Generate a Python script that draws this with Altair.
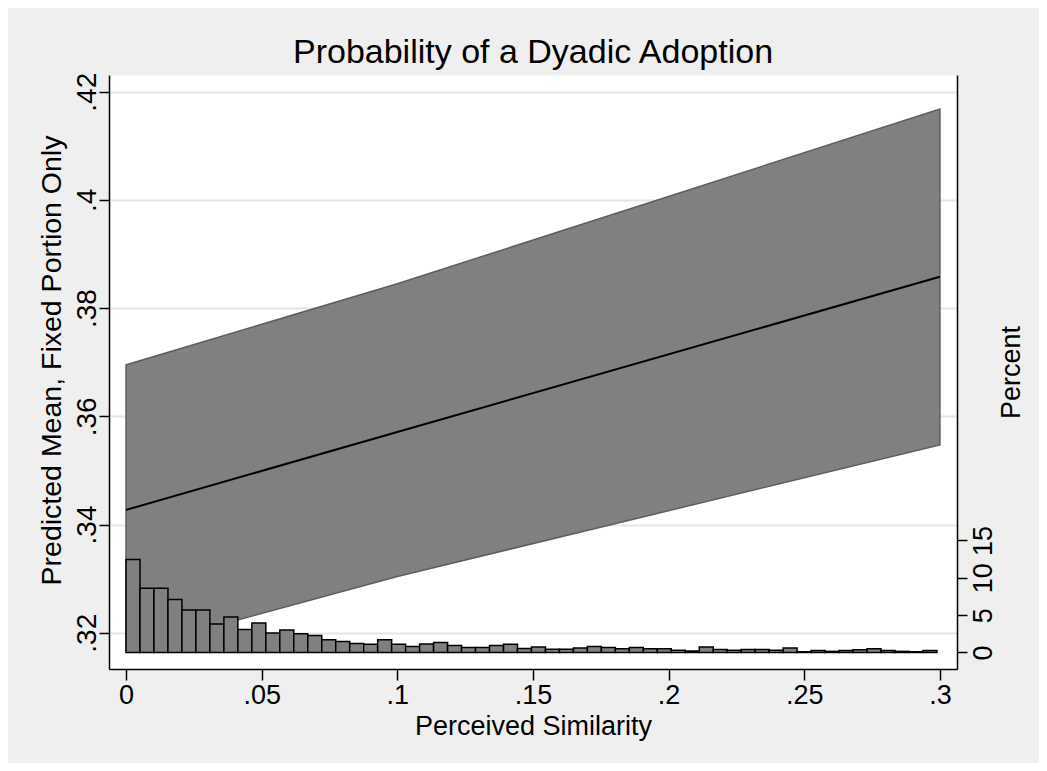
import altair as alt
import pandas as pd

# --- data ---
x_fit = [0.0, 0.1, 0.3]
fit_mean = [0.3427, 0.3571, 0.3858]
ci_upper = [0.3695, 0.3845, 0.4168]
ci_lower = [0.3167, 0.3304, 0.3547]

hist_pct = [12.45, 8.6, 8.6, 7.1, 5.7, 5.7, 3.8, 4.76, 3.07, 3.96,
            2.6, 3.0, 2.5, 2.27, 1.7, 1.47, 1.2, 1.1, 1.7, 1.1,
            0.8, 1.15, 1.33, 0.93, 0.67, 0.67, 0.93, 1.1, 0.53, 0.75,
            0.45, 0.45, 0.6, 0.8, 0.67, 0.5, 0.67, 0.5, 0.5, 0.3,
            0.2, 0.75, 0.4, 0.3, 0.4, 0.4, 0.3, 0.6, 0.1, 0.25,
            0.15, 0.25, 0.35, 0.5, 0.25, 0.15, 0.1, 0.25]
hist_min = 0.0
hist_max = 0.2989

x_ticks = [0, 0.05, 0.1, 0.15, 0.2, 0.25, 0.3]
y_ticks = [0.32, 0.34, 0.36, 0.38, 0.40, 0.42]
pct_ticks = [0, 5, 10, 15]

FONT = "Liberation Sans"

bw = (hist_max - hist_min) / len(hist_pct)
hist_df = pd.DataFrame({
    "lo": [hist_min + i * bw for i in range(len(hist_pct))],
    "hi": [hist_min + (i + 1) * bw for i in range(len(hist_pct))],
    "pct": hist_pct,
})
fit_df = pd.DataFrame({"x": x_fit, "fit": fit_mean, "ub": ci_upper, "lb": ci_lower})

x_scale = alt.Scale(domain=[-0.00627, 0.3063], nice=False, zero=False)
y_scale = alt.Scale(domain=[0.31329, 0.42309], nice=False, zero=False)
p_scale = alt.Scale(domain=[-2.21, 77.3], nice=False, zero=False)

fmt = "replace(format(datum.value, '.2~f'), '0.', '.')"

x_axis = alt.Axis(values=x_ticks, labelExpr=fmt, title="Perceived Similarity",
                  grid=False, tickSize=11, labelPadding=2, labelFontSize=27,
                  titleFontSize=27, titleY=57, titleBaseline="middle",
                  labelFlush=False)
y_axis = alt.Axis(values=y_ticks, labelExpr=fmt,
                  title="Predicted Mean, Fixed Portion Only",
                  grid=True, gridColor="#e6e6e6", gridWidth=2,
                  tickSize=10, labelAngle=270, labelAlign="center",
                  labelBaseline="alphabetic", labelPadding=4,
                  labelFontSize=28, titleFontSize=28.5, titleAngle=270,
                  titleX=-58, titleY=285, titleBaseline="middle",
                  titleAlign="center", labelFlush=False)
p_axis = alt.Axis(values=pct_ticks, title="Percent", orient="right",
                  grid=False, tickSize=10, labelAngle=270, labelAlign="center",
                  labelBaseline="top", labelPadding=3, labelFontSize=27,
                  titleFontSize=27, titleAngle=270, titleX=54, titleY=297,
                  titleBaseline="middle", titleAlign="center", labelFlush=False)

band = alt.Chart(fit_df).mark_area(
    color="#808080", stroke="#5e5e5e", strokeWidth=1.5, opacity=1
).encode(
    x=alt.X("x:Q", scale=x_scale, axis=x_axis),
    y=alt.Y("lb:Q", scale=y_scale, axis=y_axis),
    y2="ub:Q",
)
line = alt.Chart(fit_df).mark_line(color="black", strokeWidth=2).encode(
    x=alt.X("x:Q", scale=x_scale),
    y=alt.Y("fit:Q", scale=y_scale),
)
left = band + line

bars = alt.Chart(hist_df).mark_bar(
    color="#808080", stroke="black", strokeWidth=1.5, opacity=1
).encode(
    x=alt.X("lo:Q", scale=x_scale),
    x2="hi:Q",
    y=alt.Y("pct:Q", scale=p_scale, axis=p_axis),
    y2=alt.datum(0),
)

chart = alt.layer(left, bars).resolve_scale(y="independent").properties(
    width=848, height=594,
    autosize=alt.AutoSizeParams(type="none"),
    padding={"left": 101, "top": 67, "right": 82, "bottom": 94},
    title=alt.TitleParams("Probability of a Dyadic Adoption", fontSize=34,
                          font=FONT, fontWeight="normal", anchor="middle",
                          offset=2, color="black"),
).configure(background="#efefef").configure_view(
    fill="white", strokeOpacity=0
).configure_axis(
    domainColor="black", domainWidth=1.5, tickColor="black", tickWidth=1.5,
    labelColor="black", titleColor="black", labelFont=FONT, titleFont=FONT,
    titleFontWeight="normal"
)

chart.save("out.html", embed_options={"renderer": "svg", "actions": False})
